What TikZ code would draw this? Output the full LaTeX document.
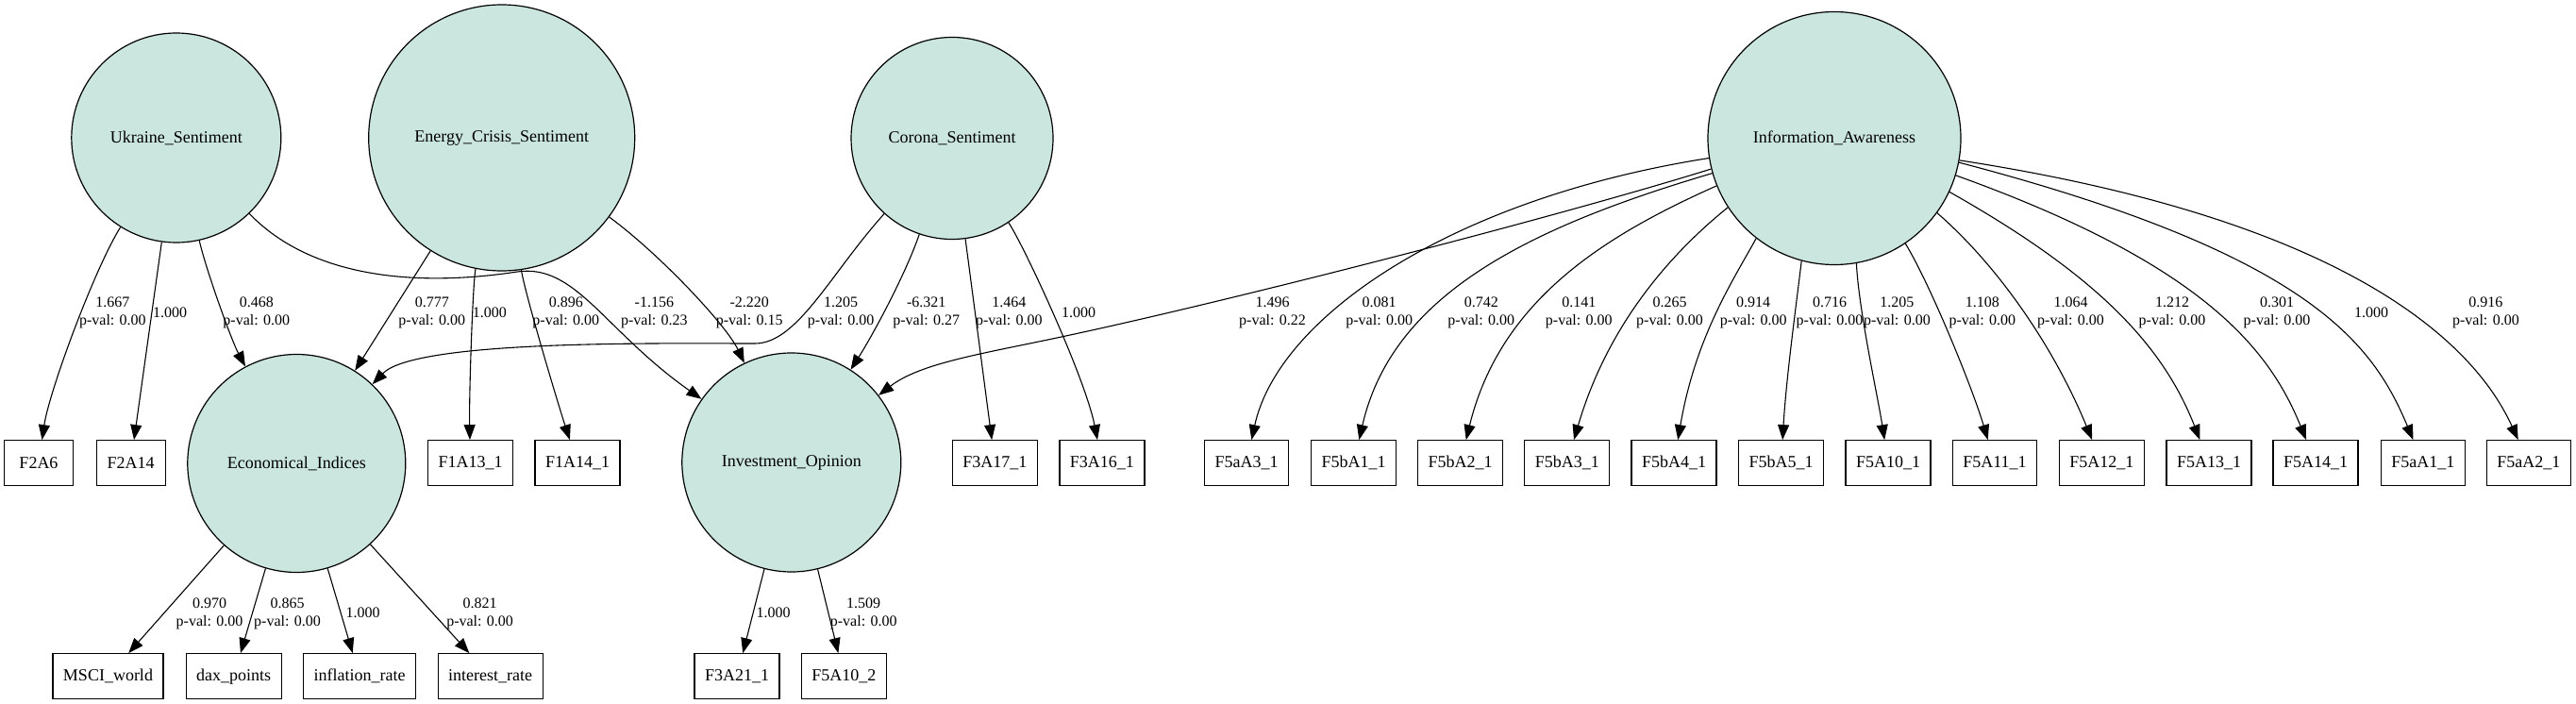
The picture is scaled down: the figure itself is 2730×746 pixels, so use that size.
\documentclass[tikz,border=0pt]{standalone}
\usepackage{fontspec}
\setmainfont{Liberation Serif}
\usetikzlibrary{arrows.meta}
\definecolor{latfill}{RGB}{203,230,223}
\newcommand\nodefont{\fontsize{18}{21.6}\selectfont}
\newcommand\lblfont{\fontsize{16}{19}\selectfont}
\begin{document}
\begin{tikzpicture}[x=1pt,y=-1pt,
  lat/.style={circle, draw=black, fill=latfill, line width=1.2pt, inner sep=0pt, font=\nodefont},
  obs/.style={rectangle, draw=black, line width=1.2pt, minimum height=48pt, minimum width=73pt, inner xsep=11pt, inner ysep=0pt, font=\nodefont},
  lbl/.style={align=center, font=\lblfont, inner sep=0pt},
  conn/.style={line width=1.1pt, -{Triangle[length=16pt,width=12pt]}}]
\fill[white] (0,0) rectangle (2730,746);
\useasboundingbox (0,0) rectangle (2730,746);

% latent variables
\node[lat, minimum size=222pt] (U) at (186.8,146) {Ukraine\_Sentiment};
\node[lat, minimum size=282pt] (EC) at (531.7,146) {Energy\_Crisis\_Sentiment};
\node[lat, minimum size=214pt] (C) at (1009,146.5) {Corona\_Sentiment};
\node[lat, minimum size=268pt] (I) at (1944,146.5) {Information\_Awareness};
\node[lat, minimum size=231pt] (E) at (314.3,491) {Economical\_Indices};
\node[lat, minimum size=232pt] (IO) at (838.8,490) {Investment\_Opinion};

% observed variables, middle row
\node[obs] (F2A6) at (41,490.7) {F2A6};
\node[obs] (F2A14) at (138.6,490.7) {F2A14};
\node[obs] (F1A13) at (498.5,490.7) {F1A13\_1};
\node[obs] (F1A14) at (612,490.7) {F1A14\_1};
\node[obs] (F3A17) at (1054.4,490.7) {F3A17\_1};
\node[obs] (F3A16) at (1167.9,490.7) {F3A16\_1};
\node[obs] (F5aA3) at (1321,490.7) {F5aA3\_1};
\node[obs] (F5bA1) at (1434.7,490.7) {F5bA1\_1};
\node[obs] (F5bA2) at (1547.7,490.7) {F5bA2\_1};
\node[obs] (F5bA3) at (1660.8,490.7) {F5bA3\_1};
\node[obs] (F5bA4) at (1774,490.7) {F5bA4\_1};
\node[obs] (F5bA5) at (1887.7,490.7) {F5bA5\_1};
\node[obs] (F5A10) at (2001,490.7) {F5A10\_1};
\node[obs] (F5A11) at (2114,490.7) {F5A11\_1};
\node[obs] (F5A12) at (2227.3,490.7) {F5A12\_1};
\node[obs] (F5A13) at (2341,490.7) {F5A13\_1};
\node[obs] (F5A14) at (2454,490.7) {F5A14\_1};
\node[obs] (F5aA1) at (2567.8,490.7) {F5aA1\_1};
\node[obs] (F5aA2) at (2679.8,490.7) {F5aA2\_1};

% observed variables, bottom row
\node[obs] (MSCI) at (114.5,716.7) {MSCI\_world};
\node[obs] (dax) at (247.7,716.7) {dax\_points};
\node[obs] (infl) at (381,716.7) {inflation\_rate};
\node[obs] (intr) at (519.7,716.7) {interest\_rate};
\node[obs] (F3A21) at (781,716.7) {F3A21\_1};
\node[obs] (F5A10b) at (894.4,716.7) {F5A10\_2};

% Ukraine_Sentiment
\draw[conn] (U) .. controls (100,285) and (52,415) .. (F2A6);
\draw[conn] (U) -- (F2A14);
\draw[conn] (U) .. controls (218,285) and (245,360) .. (E);
\draw[conn] (U) .. controls (340,305) and (470,300) .. (548,288) .. controls (610,279) and (640,350) .. (IO);

% Energy_Crisis_Sentiment
\draw[conn] (EC) -- (E);
\draw[conn] (EC) .. controls (501,300) and (497,420) .. (F1A13);
\draw[conn] (EC) .. controls (556,310) and (592,430) .. (F1A14);
\draw[conn] (EC) .. controls (700,270) and (770,345) .. (IO);

% Corona_Sentiment
\draw[conn] (C) .. controls (880,290) and (845,364) .. (800,364) .. controls (700,364) and (440,360) .. (E);
\draw[conn] (C) .. controls (960,290) and (925,355) .. (IO);
\draw[conn] (C) -- (F3A17);
\draw[conn] (C) .. controls (1085,260) and (1150,400) .. (F3A16);

% Information_Awareness
\draw[conn] (I.194) .. controls (1650,230) and (1300,320) .. (1120,358) .. controls (1040,375) and (975,385) .. (IO);
\draw[conn] (I.189) .. controls (1540,210) and (1355,335) .. (F5aA3);
\draw[conn] (I.196) .. controls (1613,243) and (1475,315) .. (F5bA1);
\draw[conn] (I.202) .. controls (1700,250) and (1590,318) .. (F5bA2);
\draw[conn] (I.213) .. controls (1775,265) and (1705,340) .. (F5bA3);
\draw[conn] (I.232) .. controls (1838,295) and (1797,356) .. (F5bA4);
\draw[conn] (I.255) .. controls (1904,320) and (1893,400) .. (F5bA5);
\draw[conn] (I.280) .. controls (1970,330) and (1990,420) .. (F5A10);
\draw[conn] (I.304) .. controls (2045,300) and (2090,410) .. (F5A11);
\draw[conn] (I.324) .. controls (2120,284) and (2178,371) .. (F5A12);
\draw[conn] (I.335) .. controls (2214,287) and (2290,360) .. (F5A13);
\draw[conn] (I.343) .. controls (2335,280) and (2405,370) .. (F5A14);
\draw[conn] (I.349) .. controls (2450,270) and (2515,365) .. (F5aA1);
\draw[conn] (I.350) .. controls (2500,235) and (2625,370) .. (F5aA2);

% Economical_Indices and Investment_Opinion
\draw[conn] (E) -- (MSCI);
\draw[conn] (E) -- (dax);
\draw[conn] (E) -- (infl);
\draw[conn] (E) -- (intr);
\draw[conn] (IO) -- (F3A21);
\draw[conn] (IO) -- (F5A10b);

% edge labels, upper band
\node[lbl] (l1) at (119.4,331.5) {1.667\\p-val: 0.00};
\node[lbl] (l2) at (180.2,331.7) {1.000};
\node[lbl] (l3) at (271.8,331.5) {0.468\\p-val: 0.00};
\node[lbl] (l4) at (457.8,331.5) {0.777\\p-val: 0.00};
\node[lbl] (l5) at (518.9,331.7) {1.000};
\node[lbl] (l6) at (599.8,331.5) {0.896\\p-val: 0.00};
\node[lbl] (l7) at (693.4,331.5) {-1.156\\p-val: 0.23};
\node[lbl] (l8) at (794.2,331.5) {-2.220\\p-val: 0.15};
\node[lbl] (l9) at (891.1,331.5) {1.205\\p-val: 0.00};
\node[lbl] (l10) at (981.7,331.5) {-6.321\\p-val: 0.27};
\node[lbl] (l11) at (1069.4,331.5) {1.464\\p-val: 0.00};
\node[lbl] (l12) at (1143,331.7) {1.000};
\node[lbl] (l13) at (1348.5,331.5) {1.496\\p-val: 0.22};
\node[lbl] (l14) at (1461.7,331.5) {0.081\\p-val: 0.00};
\node[lbl] (l15) at (1569.8,331.5) {0.742\\p-val: 0.00};
\node[lbl] (l16) at (1673.3,331.5) {0.141\\p-val: 0.00};
\node[lbl] (l17) at (1769.5,331.5) {0.265\\p-val: 0.00};
\node[lbl] (l18) at (1858.2,331.5) {0.914\\p-val: 0.00};
\node[lbl] (l19) at (1939,331.5) {0.716\\p-val: 0.00};
\node[lbl] (l20) at (2010.4,331.5) {1.205\\p-val: 0.00};
\node[lbl] (l21) at (2100.8,331.5) {1.108\\p-val: 0.00};
\node[lbl] (l22) at (2194.5,331.5) {1.064\\p-val: 0.00};
\node[lbl] (l23) at (2302,331.5) {1.212\\p-val: 0.00};
\node[lbl] (l24) at (2413,331.5) {0.301\\p-val: 0.00};
\node[lbl] (l25) at (2513,331.7) {1.000};
\node[lbl] (l26) at (2634.4,331.5) {0.916\\p-val: 0.00};

% edge labels, lower band
\node[lbl] (l27) at (222,650.3) {0.970\\p-val: 0.00};
\node[lbl] (l28) at (304.5,650.3) {0.865\\p-val: 0.00};
\node[lbl] (l29) at (384.6,649.3) {1.000};
\node[lbl] (l30) at (508.6,650.3) {0.821\\p-val: 0.00};
\node[lbl] (l31) at (819.6,649.3) {1.000};
\node[lbl] (l32) at (915.2,650.3) {1.509\\p-val: 0.00};
\end{tikzpicture}
\end{document}
